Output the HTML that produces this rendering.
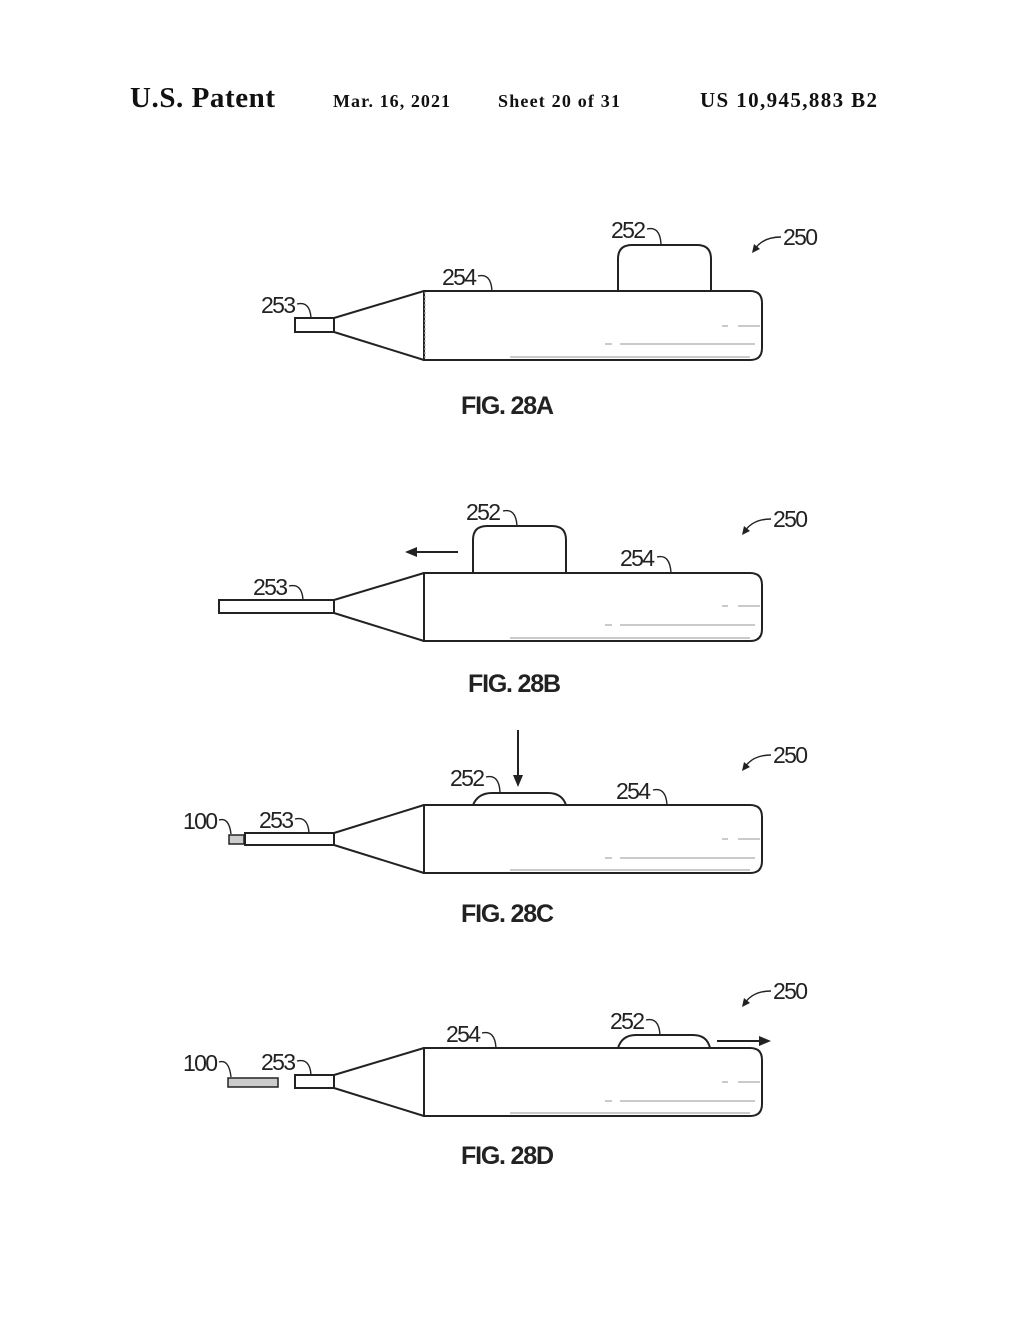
<!DOCTYPE html>
<html><head><meta charset="utf-8"><style>
html,body{margin:0;padding:0;background:#fff}
svg{display:block}
.h{font-family:"Liberation Serif",serif;font-weight:bold;fill:#111}
.l{font-family:"Liberation Sans",sans-serif;font-size:23px;fill:#222}
.c{font-family:"Liberation Sans",sans-serif;font-size:25px;font-weight:bold;fill:#222}
.s{fill:none;stroke:#222;stroke-width:2}
.t{fill:none;stroke:#222;stroke-width:1.4}
.g{fill:none;stroke:#aaa;stroke-width:1.2}
</style></head><body>
<svg width="1020" height="1320" viewBox="0 0 1020 1320" xmlns="http://www.w3.org/2000/svg">
<text class="h" x="130" y="107" font-size="29" textLength="145">U.S. Patent</text>
<text class="h" x="333" y="107" font-size="18" textLength="117">Mar. 16, 2021</text>
<text class="h" x="498" y="107" font-size="18" textLength="122">Sheet 20 of 31</text>
<text class="h" x="700" y="107" font-size="21" textLength="177">US 10,945,883 B2</text>

<!-- FIG 28A -->
<path class="s" d="M424,291 H750 Q762,291 762,303 V348 Q762,360 750,360 H424 Z"/>
<line class="g" x1="425" y1="292" x2="425" y2="359" stroke-dasharray="2,2"/>
<path class="s" d="M424,291 L334,318 M424,360 L334,332"/>
<rect class="s" x="295" y="318" width="39" height="14"/>
<path class="s" d="M618,291 V259 Q618,245 632,245 H697 Q711,245 711,259 V291"/>
<path class="g" d="M510,357 H750 M605,344 H612 M620,344 H755 M722,326 H728 M738,326 H760"/>
<text class="l" x="611" y="238" textLength="35">252</text>
<path class="t" d="M647,229 q13,-3 14,15"/>
<text class="l" x="442" y="285" textLength="35">254</text>
<path class="t" d="M478,276 q13,-3 14,15"/>
<text class="l" x="261" y="313" textLength="35">253</text>
<path class="t" d="M297,304 q13,-3 14,14"/>
<text class="l" x="783" y="245" textLength="35">250</text>
<path class="t" d="M781,237 q-18,0 -26,12"/><path d="M752,253 l2,-9 l6,5 z" fill="#222"/>
<text class="c" x="461" y="414" textLength="93">FIG. 28A</text>

<!-- FIG 28B -->
<path class="s" d="M424,573 H750 Q762,573 762,585 V629 Q762,641 750,641 H424 Z"/>
<path class="s" d="M424,573 L334,600 M424,641 L334,613"/>
<rect class="s" x="219" y="600" width="115" height="13"/>
<path class="s" d="M473,573 V540 Q473,526 487,526 H552 Q566,526 566,540 V573"/>
<path class="g" d="M510,638 H750 M605,625 H612 M620,625 H755 M722,606 H728 M738,606 H760"/>
<path class="s" d="M416,552 H458"/><path d="M405,552 l12,-5 v10 z" fill="#222"/>
<text class="l" x="466" y="520" textLength="35">252</text>
<path class="t" d="M503,511 q13,-3 14,15"/>
<text class="l" x="620" y="566" textLength="35">254</text>
<path class="t" d="M657,557 q13,-3 14,16"/>
<text class="l" x="253" y="595" textLength="35">253</text>
<path class="t" d="M289,586 q13,-3 14,14"/>
<text class="l" x="773" y="527" textLength="35">250</text>
<path class="t" d="M771,519 q-18,0 -26,12"/><path d="M742,535 l2,-9 l6,5 z" fill="#222"/>
<text class="c" x="468" y="692" textLength="93">FIG. 28B</text>

<!-- FIG 28C -->
<path class="s" d="M424,805 H750 Q762,805 762,817 V861 Q762,873 750,873 H424 Z"/>
<path class="s" d="M424,805 L334,833 M424,873 L334,845"/>
<rect class="s" x="245" y="833" width="89" height="12"/>
<rect x="229" y="835" width="15" height="9" fill="#ccc" stroke="#222" stroke-width="1.5"/>
<path class="s" d="M473,805 Q478,793 492,793 H548 Q562,793 566,805"/>
<path class="g" d="M510,870 H750 M605,858 H612 M620,858 H755 M722,839 H728 M738,839 H760"/>
<path class="s" d="M518,730 V778"/><path d="M518,787 l-5,-12 h10 z" fill="#222"/>
<text class="l" x="450" y="786" textLength="35">252</text>
<path class="t" d="M486,777 q13,-3 14,15"/>
<text class="l" x="616" y="799" textLength="35">254</text>
<path class="t" d="M653,790 q13,-3 14,15"/>
<text class="l" x="259" y="828" textLength="35">253</text>
<path class="t" d="M295,819 q13,-3 14,14"/>
<text class="l" x="183" y="829" textLength="35">100</text>
<path class="t" d="M219,820 q10,-3 12,14"/>
<text class="l" x="773" y="763" textLength="35">250</text>
<path class="t" d="M771,755 q-18,0 -26,12"/><path d="M742,771 l2,-9 l6,5 z" fill="#222"/>
<text class="c" x="461" y="922" textLength="93">FIG. 28C</text>

<!-- FIG 28D -->
<path class="s" d="M424,1048 H750 Q762,1048 762,1060 V1104 Q762,1116 750,1116 H424 Z"/>
<path class="s" d="M424,1048 L334,1075 M424,1116 L334,1088"/>
<rect class="s" x="295" y="1075" width="39" height="13"/>
<rect x="228" y="1078" width="50" height="9" fill="#ccc" stroke="#222" stroke-width="1.5"/>
<path class="s" d="M618,1048 Q622,1035 636,1035 H693 Q707,1035 710,1048"/>
<path class="g" d="M510,1113 H750 M605,1101 H612 M620,1101 H755 M722,1082 H728 M738,1082 H760"/>
<path class="s" d="M717,1041 H760"/><path d="M771,1041 l-12,-5 v10 z" fill="#222"/>
<text class="l" x="446" y="1042" textLength="35">254</text>
<path class="t" d="M482,1033 q13,-3 14,15"/>
<text class="l" x="610" y="1029" textLength="35">252</text>
<path class="t" d="M646,1020 q13,-3 14,15"/>
<text class="l" x="261" y="1070" textLength="35">253</text>
<path class="t" d="M297,1061 q13,-3 14,14"/>
<text class="l" x="183" y="1071" textLength="35">100</text>
<path class="t" d="M219,1062 q10,-3 12,15"/>
<text class="l" x="773" y="999" textLength="35">250</text>
<path class="t" d="M771,991 q-18,0 -26,12"/><path d="M742,1007 l2,-9 l6,5 z" fill="#222"/>
<text class="c" x="461" y="1164" textLength="93">FIG. 28D</text>
</svg>
</body></html>
